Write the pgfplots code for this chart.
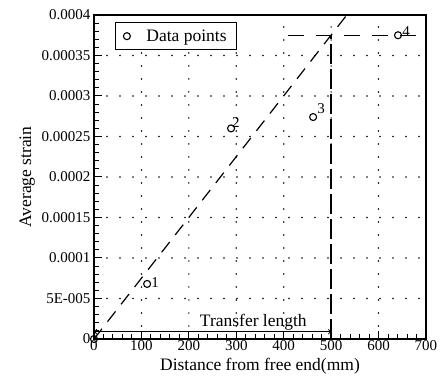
\documentclass[border=0pt]{standalone}
\usepackage{fontspec}
\setmainfont{Liberation Serif}
\usepackage{pgfplots}
\pgfplotsset{compat=1.18}
\begin{document}
\begin{tikzpicture}
\begin{axis}[
 scale only axis, width=332pt, height=324pt,
 xmin=0, xmax=700, ymin=0, ymax=0.0004,
 xtick={0,100,...,700},
 ytick={0,0.00005,0.0001,0.00015,0.0002,0.00025,0.0003,0.00035,0.0004},
 yticklabels={0,5E-005,0.0001,0.00015,0.0002,0.00025,0.0003,0.00035,0.0004},
 scaled y ticks=false,
 minor x tick num=4, minor y tick num=4,
 tick align=inside, xtick pos=bottom, ytick pos=left,
 major tick length=8pt, minor tick length=5pt,
 grid=major,
 major grid style={black, line width=1.7pt, line cap=round, dash pattern=on 0pt off 13pt},
 axis line style={line width=1.3pt},
 every tick/.style={black, line width=1pt},
 ticklabel style={font=\fontsize{15}{18}\selectfont},
 xticklabel style={inner sep=1pt},
 /pgf/number format/assume math mode=true,
 xlabel={Distance from free end(mm)}, ylabel={Average strain},
 label style={font=\fontsize{17.5}{20}\selectfont},
 xlabel style={yshift=-7pt, inner sep=0pt},
 legend style={at={(0.063,0.978)}, anchor=north west, draw=black, line width=1pt,
   font=\fontsize{17.5}{20}\selectfont, fill=white, inner xsep=8pt, inner ysep=5pt,
   /tikz/every odd column/.append style={column sep=14pt}},
 legend cell align=left,
 clip=false,
]
\addplot[only marks, mark=o, mark size=3.5pt, mark options={line width=1.1pt, black}] coordinates {(0,0) (112,6.8e-5) (289,2.6e-4) (462,2.74e-4) (641,3.75e-4)};
\addlegendentry{Data points}
\addplot[black, line width=1.2pt, dash pattern=on 13pt off 9pt, forget plot] coordinates {(0,0) (533,0.0004)};
\addplot[black, line width=1.2pt, dash pattern=on 16pt off 12pt, forget plot] coordinates {(410,0.000375) (700,0.000375)};
\addplot[black, line width=1.4pt, dash pattern=on 20pt off 5pt, forget plot] coordinates {(500,0) (500,0.000375)};
\addplot[black, line width=1pt, <->, forget plot] coordinates {(0,0.9e-5) (500,0.9e-5)};
\node[anchor=base, font=\fontsize{17.5}{20}\selectfont] at (axis cs:336,1.6e-5) {Transfer length};
\node[font=\fontsize{15}{18}\selectfont] at (axis cs:129,7.0e-5) {1};
\node[font=\fontsize{15}{18}\selectfont] at (axis cs:299,2.67e-4) {2};
\node[font=\fontsize{15}{18}\selectfont] at (axis cs:479,2.85e-4) {3};
\node[font=\fontsize{15}{18}\selectfont] at (axis cs:658,3.79e-4) {4};
\end{axis}
\path (current axis.south west) ++(-94pt,-51pt) rectangle ++(442pt,390pt);
\end{tikzpicture}
\end{document}
